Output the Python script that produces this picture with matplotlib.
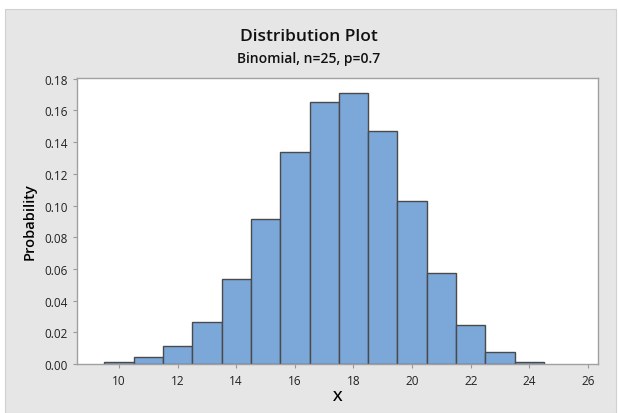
import matplotlib
matplotlib.use("Agg")
import matplotlib.pyplot as plt
from matplotlib.patches import Rectangle

plt.rcParams["font.family"] = ["Open Sans", "DejaVu Sans"]

# Binomial(25, 0.7) probabilities
x_vals = [10, 11, 12, 13, 14, 15, 16, 17, 18, 19, 20, 21, 22, 23, 24]
probs = [0.0013, 0.0042, 0.0115, 0.0268, 0.0536, 0.0916, 0.1336, 0.1651,
         0.1712, 0.1472, 0.1030, 0.0572, 0.0243, 0.0074, 0.0014]
x_ticks = [10, 12, 14, 16, 18, 20, 22, 24, 26]
y_ticks = [0.00, 0.02, 0.04, 0.06, 0.08, 0.10, 0.12, 0.14, 0.16, 0.18]

BG = "#e6e6e6"
BAR = "#7ba7d9"
EDGE = "#4a4a4a"

fig = plt.figure(figsize=(6.18, 4.14), dpi=100)
fig.patch.set_facecolor("white")
fig.patches.append(Rectangle((5 / 618, 0), 1 - 7 / 618, 1 - 10 / 414,
                             transform=fig.transFigure, facecolor=BG,
                             edgecolor="#d0d0d0", lw=0.8, zorder=-10))

ax = fig.add_axes([77 / 618, 1 - 365 / 414, 521 / 618, 286 / 414])
ax.bar(x_vals, probs, width=1.0, color=BAR, edgecolor=EDGE, linewidth=1.0)

ax.set_xlim(8.57, 26.34)
ax.set_ylim(0, 0.1805)
ax.set_xticks(x_ticks)
ax.set_yticks(y_ticks)
ax.set_yticklabels([f"{v:.2f}" for v in y_ticks])
ax.tick_params(axis="both", labelsize=8.5, length=3, color="#999999",
               colors="#222222", width=0.8)
ax.tick_params(axis="x", pad=4)
for sp in ax.spines.values():
    sp.set_color("#a0a0a0")
    sp.set_linewidth(1.0)

ax.set_xlabel("X", fontsize=11, fontweight="semibold", labelpad=2)
ax.set_ylabel("Probability", fontsize=10.5, fontweight="semibold", labelpad=6)

fig.text(0.5, 1 - 37 / 414, "Distribution Plot", ha="center", va="center",
         fontsize=12.5, fontweight="semibold", color="#111111")
fig.text(0.5, 1 - 59 / 414, "Binomial, n=25, p=0.7", ha="center", va="center",
         fontsize=10, fontweight="semibold", color="#111111")

fig.savefig("out.png", dpi=100, facecolor=fig.get_facecolor())
